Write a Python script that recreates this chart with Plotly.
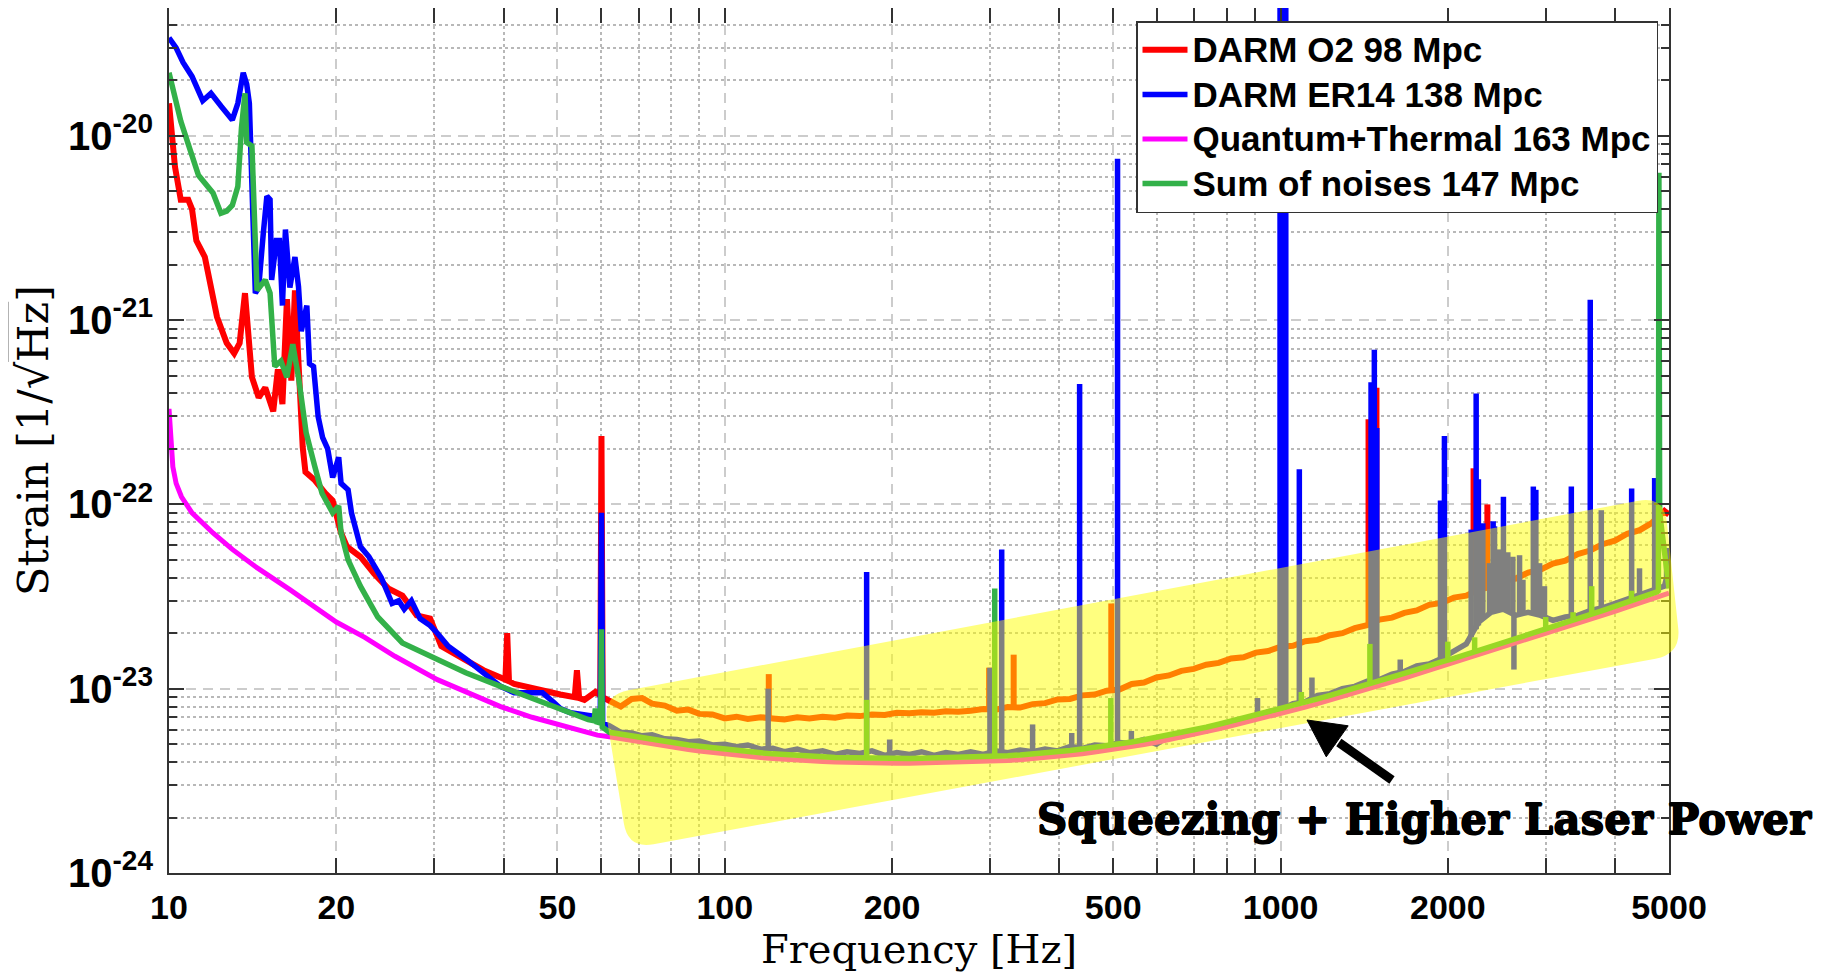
import math
import plotly.graph_objects as go

# ======================= DATA =======================
# common frequency grid in the "bucket" (Hz)
f_bucket = [62, 65, 68, 71, 74, 78, 82, 86, 90, 95,
            100, 105, 110, 116, 122, 128, 135, 142, 150, 158,
            166, 175, 184, 194, 204, 215, 226, 238, 250, 263,
            277, 292, 307, 323, 340, 358, 377, 397, 418, 440,
            463, 487, 513, 540, 568, 598, 630, 663, 698, 735,
            774, 815, 858, 903, 950, 1000, 1053, 1108, 1166, 1228,
            1292, 1360, 1432, 1507, 1587, 1670, 1758, 1851, 1948, 2051,
            2159, 2272, 2392, 2518, 2650, 2790, 2937, 3091, 3254, 3425,
            3606, 3796, 3996, 4206, 4428, 4661, 4906, 5000]

# --- DARM O2 (red) ---
red_f_low = [10.0, 10.1, 10.25, 10.5, 10.83, 11.0, 11.2, 11.6, 12.2, 12.7,
             13.1, 13.4, 13.7, 14.1, 14.5, 14.9, 15.4, 15.7, 16.0, 16.3,
             16.6, 16.85, 17.4, 17.6, 18.3, 19.1, 19.7, 20.4, 20.9, 22.1,
             23.4, 24.8, 26.3, 27.9, 29.5, 30.9, 33.2, 36.8, 39.5, 40.3,
             40.6, 40.9, 41.8, 45.7, 50.6, 53.7, 54.2, 54.7, 55.9, 58.5,
             59.7, 60.0, 60.3]
red_v_low = [1.5e-20, 1.0e-20, 6.8e-21, 4.5e-21, 4.5e-21, 4.0e-21, 2.7e-21, 2.2e-21, 1.04e-21, 7.5e-22,
             6.6e-22, 7.5e-22, 1.4e-21, 4.9e-22, 3.8e-22, 4.3e-22, 3.2e-22, 5.4e-22, 3.5e-22, 1.3e-21,
             4.7e-22, 1.45e-21, 2.05e-22, 1.5e-22, 1.35e-22, 1.15e-22, 1.05e-22, 7e-23, 5.9e-23, 5.2e-23,
             4.2e-23, 3.5e-23, 3.2e-23, 2.5e-23, 2.4e-23, 1.7e-23, 1.5e-23, 1.26e-23, 1.15e-23, 1.12e-23,
             2.0e-23, 1.1e-23, 1.06e-23, 9.9e-24, 9.3e-24, 9.0e-24, 1.26e-23, 8.9e-24, 8.7e-24, 9.6e-24,
             9.2e-24, 2.35e-22, 9.0e-24]
red_v_bucket = [8.6e-24, 8.0e-24, 8.8e-24, 8.9e-24, 8.3e-24, 8.1e-24, 7.6e-24, 7.7e-24, 7.3e-24, 7.25e-24,
                6.9e-24, 7.05e-24, 6.85e-24, 7.0e-24, 6.9e-24, 6.8e-24, 7.0e-24, 6.9e-24, 7.05e-24, 6.95e-24,
                7.15e-24, 7.1e-24, 7.25e-24, 7.2e-24, 7.4e-24, 7.35e-24, 7.45e-24, 7.4e-24, 7.55e-24, 7.5e-24,
                7.6e-24, 7.75e-24, 7.7e-24, 7.95e-24, 7.9e-24, 8.25e-24, 8.35e-24, 8.75e-24, 8.8e-24, 9.2e-24,
                9.3e-24, 9.75e-24, 9.9e-24, 1.06e-23, 1.08e-23, 1.15e-23, 1.18e-23, 1.25e-23, 1.28e-23, 1.35e-23,
                1.38e-23, 1.46e-23, 1.48e-23, 1.57e-23, 1.6e-23, 1.69e-23, 1.71e-23, 1.81e-23, 1.84e-23, 1.95e-23,
                2.0e-23, 2.13e-23, 2.21e-23, 2.37e-23, 2.43e-23, 2.58e-23, 2.66e-23, 2.85e-23, 2.92e-23, 3.12e-23,
                3.2e-23, 3.45e-23, 3.57e-23, 3.85e-23, 3.96e-23, 4.27e-23, 4.42e-23, 4.77e-23, 4.95e-23, 5.38e-23,
                5.62e-23, 6.08e-23, 6.36e-23, 6.93e-23, 7.25e-23, 7.95e-23, 9.2e-23, 8.8e-23]
red_spike_f = [120, 299, 331, 496, 1440, 1488, 2225, 2356]
red_spike_base = [6.9e-24, 7.7e-24, 7.9e-24, 9.8e-24, 2.25e-23, 2.35e-23, 3.35e-23, 3.6e-23]
red_spike_peak = [1.2e-23, 1.3e-23, 1.53e-23, 2.9e-23, 2.9e-22, 4.3e-22, 1.57e-22, 1.0e-22]

# --- DARM ER14 (blue) ---
blue_f_low = [10.0, 10.3, 10.6, 11.0, 11.5, 11.9, 12.4, 13.0, 13.3, 13.6,
              13.8, 13.95, 14.3, 14.5, 14.78, 15.0, 15.2, 15.3, 15.6, 15.8,
              16.0, 16.2, 16.5, 16.85, 17.1, 17.3, 17.7, 17.9, 18.2, 18.55,
              18.9, 19.3, 19.7, 20.2, 20.4, 21.0, 21.3, 22.1, 22.9, 24.1,
              25.2, 25.9, 26.5, 27.3, 28.3, 29.5, 30.4, 31.8, 34.2, 36.8,
              39.5, 41.8, 44.3, 47.0, 49.1, 50.6, 52.8, 56.4, 59.7, 60.0,
              60.3]
blue_v_low = [3.4e-20, 3.0e-20, 2.5e-20, 2.1e-20, 1.55e-20, 1.7e-20, 1.45e-20, 1.22e-20, 1.5e-20, 2.2e-20,
              1.9e-20, 1.5e-20, 1.4e-21, 1.5e-21, 2.96e-21, 4.7e-21, 4.5e-21, 1.65e-21, 2.7e-21, 2.7e-21,
              1.2e-21, 3.1e-21, 1.5e-21, 2.2e-21, 1.52e-21, 8.7e-22, 1.2e-21, 5.8e-22, 5.6e-22, 3.0e-22,
              2.3e-22, 2.0e-22, 1.4e-22, 1.8e-22, 1.3e-22, 1.2e-22, 9e-23, 5.9e-23, 5.2e-23, 4e-23,
              2.9e-23, 3.0e-23, 2.7e-23, 3.0e-23, 2.4e-23, 2.2e-23, 2.0e-23, 1.7e-23, 1.45e-23, 1.22e-23,
              1.03e-23, 9.5e-24, 9.5e-24, 9.5e-24, 8.5e-24, 7.8e-24, 7.4e-24, 7.2e-24, 7.0e-24, 9.0e-23,
              6.5e-24]
blue_v_bucket = [6.3e-24, 5.8e-24, 5.75e-24, 5.55e-24, 5.62e-24, 5.35e-24, 5.3e-24, 5.15e-24, 5.2e-24, 4.95e-24,
                 5.0e-24, 4.85e-24, 4.95e-24, 4.7e-24, 4.75e-24, 4.55e-24, 4.7e-24, 4.5e-24, 4.6e-24, 4.4e-24,
                 4.55e-24, 4.45e-24, 4.6e-24, 4.35e-24, 4.5e-24, 4.4e-24, 4.55e-24, 4.35e-24, 4.5e-24, 4.4e-24,
                 4.55e-24, 4.4e-24, 4.6e-24, 4.5e-24, 4.65e-24, 4.55e-24, 4.7e-24, 4.6e-24, 4.85e-24, 4.75e-24,
                 4.95e-24, 4.9e-24, 5.1e-24, 5.05e-24, 5.3e-24, 5.0e-24, 5.55e-24, 5.5e-24, 5.85e-24, 5.9e-24,
                 6.3e-24, 6.4e-24, 6.85e-24, 6.9e-24, 7.5e-24, 7.7e-24, 8.3e-24, 8.5e-24, 9.2e-24, 9.4e-24,
                 1.0e-23, 1.03e-23, 1.1e-23, 1.12e-23, 1.2e-23, 1.24e-23, 1.33e-23, 1.36e-23, 1.46e-23, 1.6e-23,
                 1.75e-23, 2.3e-23, 2.6e-23, 2.7e-23, 2.5e-23, 2.6e-23, 2.5e-23, 2.35e-23, 2.45e-23, 2.5e-23,
                 2.65e-23, 2.75e-23, 2.9e-23, 3.05e-23, 3.2e-23, 3.4e-23, 3.6e-23, 4.5e-23]
blue_spike_f = [119.7, 180, 198, 300, 315, 358, 421, 435, 509, 539,
                909, 998, 1004, 1010, 1016, 1022, 1081, 1139, 1455, 1475,
                1490, 1642, 1940, 1972, 2203, 2249, 2270, 2312, 2377, 2413,
                2427, 2477, 2518, 2564, 2618, 2630, 2692, 2730, 2850, 2880,
                2925, 2985, 3336, 3608, 3777, 4283, 4425, 4711, 4950]
blue_spike_base = [4.75e-24, 4.45e-24, 4.35e-24, 4.45e-24, 4.55e-24, 4.55e-24, 4.8e-24, 4.75e-24, 5.05e-24, 5.05e-24,
                   6.9e-24, 7.6e-24, 7.7e-24, 7.8e-24, 7.9e-24, 8.0e-24, 8.4e-24, 8.9e-24, 1.1e-23, 1.11e-23,
                   1.12e-23, 1.22e-23, 1.45e-23, 1.46e-23, 1.9e-23, 2.1e-23, 2.2e-23, 2.4e-23, 2.55e-23, 2.6e-23,
                   2.6e-23, 2.65e-23, 2.7e-23, 2.65e-23, 2.55e-23, 2.5e-23, 2.55e-23, 2.6e-23, 2.55e-23, 2.55e-23,
                   2.5e-23, 2.45e-23, 2.45e-23, 2.65e-23, 2.75e-23, 3.1e-23, 3.2e-23, 3.45e-23, 3.8e-23]
blue_spike_peak = [1.0e-23, 4.3e-23, 5.3e-24, 1.3e-23, 5.7e-23, 6.4e-24, 5.75e-24, 4.5e-22, 7.5e-21, 5.9e-24,
                   8.9e-24, 8e-20, 8e-20, 8e-20, 8e-20, 8e-20, 1.55e-22, 1.15e-23, 4.6e-22, 6.9e-22,
                   2.6e-22, 1.44e-23, 1.05e-22, 2.35e-22, 7.3e-23, 4.0e-22, 1.37e-22, 7.9e-23, 4.8e-23, 8.1e-23,
                   7.6e-23, 5.7e-23, 1.1e-22, 5.5e-23, 5.2e-23, 1.27e-23, 5.3e-23, 3.9e-23, 1.25e-22, 1.2e-22,
                   4.8e-23, 3.6e-23, 1.25e-22, 1.29e-21, 9.3e-23, 1.22e-22, 4.5e-23, 1.39e-22, 5.8e-23]

# --- Quantum + Thermal (magenta) ---
mag_f_low = [10, 10.08, 10.16, 10.3, 10.53, 11, 12, 13, 14.3, 16.5,
             18, 20, 22.5, 25.5, 30.4, 35, 39.5, 45, 50, 55, 59]
mag_v_low = [3.3e-22, 2.0e-22, 1.6e-22, 1.3e-22, 1.1e-22, 9.0e-23, 7.0e-23, 5.7e-23, 4.6e-23, 3.45e-23,
             2.85e-23, 2.3e-23, 1.9e-23, 1.5e-23, 1.12e-23, 9.3e-24, 8.0e-24, 7.0e-24, 6.4e-24, 5.9e-24, 5.6e-24]
mag_v_bucket = [5.48e-24, 5.35e-24, 5.2e-24, 5.08e-24, 4.98e-24, 4.87e-24, 4.76e-24, 4.67e-24, 4.59e-24, 4.5e-24,
                4.42e-24, 4.35e-24, 4.29e-24, 4.23e-24, 4.18e-24, 4.13e-24, 4.09e-24, 4.06e-24, 4.03e-24, 4.0e-24,
                3.98e-24, 3.96e-24, 3.95e-24, 3.94e-24, 3.94e-24, 3.94e-24, 3.95e-24, 3.96e-24, 3.97e-24, 3.99e-24,
                4.01e-24, 4.03e-24, 4.05e-24, 4.08e-24, 4.12e-24, 4.17e-24, 4.22e-24, 4.29e-24, 4.36e-24, 4.44e-24,
                4.53e-24, 4.62e-24, 4.73e-24, 4.85e-24, 4.98e-24, 5.12e-24, 5.28e-24, 5.45e-24, 5.63e-24, 5.83e-24,
                6.05e-24, 6.28e-24, 6.52e-24, 6.78e-24, 7.05e-24, 7.33e-24, 7.63e-24, 7.95e-24, 8.3e-24, 8.67e-24,
                9.06e-24, 9.48e-24, 9.93e-24, 1.04e-23, 1.09e-23, 1.14e-23, 1.2e-23, 1.26e-23, 1.32e-23, 1.38e-23,
                1.45e-23, 1.52e-23, 1.6e-23, 1.68e-23, 1.76e-23, 1.85e-23, 1.95e-23, 2.05e-23, 2.15e-23, 2.26e-23,
                2.38e-23, 2.5e-23, 2.63e-23, 2.77e-23, 2.92e-23, 3.07e-23, 3.23e-23, 3.3e-23]

# --- Sum of noises (green) ---
green_f_low = [10.0, 10.2, 10.5, 10.9, 11.3, 12.0, 12.4, 12.7, 13.0, 13.3,
               13.5, 13.7, 13.8, 14.1, 14.4, 14.9, 15.2, 15.5, 15.9, 16.3,
               16.7, 17.1, 17.65, 18.3, 18.85, 19.7, 20.2, 20.4, 21.0, 22.1,
               23.75, 26.3, 29.5, 34.2, 39.5, 45.7, 52.8, 56.8, 58.2, 58.5,
               58.8, 59.8, 60.0, 60.2]
green_v_low = [2.2e-20, 1.7e-20, 1.2e-20, 8.5e-21, 6.1e-21, 4.9e-21, 3.8e-21, 3.9e-21, 4.2e-21, 5.3e-21,
               1.1e-20, 1.7e-20, 9.2e-21, 8.8e-21, 1.45e-21, 1.65e-21, 1.4e-21, 5.6e-22, 6.0e-22, 4.9e-22,
               7.4e-22, 4.9e-22, 2.45e-22, 1.6e-22, 1.15e-22, 9e-23, 9.8e-23, 7e-23, 5e-23, 3.6e-23,
               2.45e-23, 1.77e-23, 1.5e-23, 1.22e-23, 1.03e-23, 8.7e-24, 7.4e-24, 6.8e-24, 6.7e-24, 7.8e-24,
               6.6e-24, 6.5e-24, 2.1e-23, 6.2e-24]
green_v_bucket = [5.8e-24, 5.66e-24, 5.5e-24, 5.38e-24, 5.28e-24, 5.16e-24, 5.05e-24, 4.95e-24, 4.87e-24, 4.77e-24,
                  4.69e-24, 4.61e-24, 4.55e-24, 4.49e-24, 4.43e-24, 4.38e-24, 4.34e-24, 4.31e-24, 4.27e-24, 4.24e-24,
                  4.22e-24, 4.2e-24, 4.19e-24, 4.18e-24, 4.18e-24, 4.18e-24, 4.19e-24, 4.2e-24, 4.21e-24, 4.23e-24,
                  4.25e-24, 4.27e-24, 4.3e-24, 4.33e-24, 4.37e-24, 4.42e-24, 4.47e-24, 4.55e-24, 4.62e-24, 4.71e-24,
                  4.8e-24, 4.9e-24, 5.01e-24, 5.14e-24, 5.28e-24, 5.43e-24, 5.6e-24, 5.78e-24, 5.97e-24, 6.18e-24,
                  6.41e-24, 6.66e-24, 6.91e-24, 7.19e-24, 7.47e-24, 7.77e-24, 8.09e-24, 8.43e-24, 8.8e-24, 9.19e-24,
                  9.6e-24, 1.0e-23, 1.05e-23, 1.1e-23, 1.16e-23, 1.21e-23, 1.27e-23, 1.34e-23, 1.4e-23, 1.46e-23,
                  1.54e-23, 1.61e-23, 1.7e-23, 1.78e-23, 1.87e-23, 1.96e-23, 2.07e-23, 2.17e-23, 2.28e-23, 2.4e-23,
                  2.52e-23, 2.65e-23, 2.79e-23, 2.94e-23, 3.1e-23, 3.25e-23]
green_f_tail = [4760, 4785, 4795, 4810, 5000]
green_v_tail = [3.35e-23, 3.4e-23, 6.3e-21, 9.0e-23, 3.5e-23]
green_spike_f = [180, 306, 495, 1090, 1448, 2000, 2235, 3000, 3360, 3630, 4280]
green_spike_base = [4.19e-24, 4.3e-24, 4.9e-24, 8.4e-24, 1.05e-23, 1.43e-23, 1.59e-23, 2.1e-23, 2.33e-23, 2.53e-23, 2.99e-23]
green_spike_peak = [8.7e-24, 3.5e-23, 8.9e-24, 9.6e-24, 1.75e-23, 1.8e-23, 1.9e-23, 2.45e-23, 2.6e-23, 3.6e-23, 3.4e-23]

# labels
series_names = ["DARM O2 98 Mpc", "DARM ER14 138 Mpc", "Quantum+Thermal 163 Mpc", "Sum of noises 147 Mpc"]
series_colors = ["#ff0000", "#0000ff", "#ff00ff", "#33b149"]
x_major = [10, 20, 50, 100, 200, 500, 1000, 2000, 5000]
x_minor = [30, 40, 60, 70, 80, 90, 300, 400, 600, 700, 800, 900, 3000, 4000]
y_major = [1e-24, 1e-23, 1e-22, 1e-21, 1e-20]
y_major_text = ["10<sup>-24</sup>", "10<sup>-23</sup>", "10<sup>-22</sup>", "10<sup>-21</sup>", "10<sup>-20</sup>"]
annotation_text = "Squeezing + Higher Laser Power"

# ======================= LAYOUT GEOMETRY =======================
# page pixel positions (the plot div sits 8px in from the page corner)
OFF = 8
FIG_W, FIG_H = 1827 - OFF, 979 - OFF
L_PX, R_PX, T_PX, B_PX = 169, 1669, 8, 873          # plot area on the page
W_PX, H_PX = R_PX - L_PX, B_PX - T_PX
DECADE_PX = 184.3
Y_TOP = -24 + H_PX / DECADE_PX


def to_paper(x, y):
    return (x - L_PX) / W_PX, (B_PX - y) / H_PX


fig = go.Figure()


def add_series(name, color, width, f, v, sf=None, sb=None, sp=None):
    label = f"<span style='font-size:35px'>{name}</span>"
    fig.add_trace(go.Scatter(x=f, y=v, mode="lines", name=label, legendgroup=name,
                             line=dict(color=color, width=width), hoverinfo="skip"))
    if sf:
        xs, ys = [], []
        for a, b, c in zip(sf, sb, sp):
            xs += [a, a, None]
            ys += [b, c, None]
        fig.add_trace(go.Scatter(x=xs, y=ys, mode="lines", legendgroup=name, showlegend=False,
                                 line=dict(color=color, width=width), hoverinfo="skip"))


add_series(series_names[0], series_colors[0], 6, red_f_low + f_bucket, red_v_low + red_v_bucket,
           red_spike_f, red_spike_base, red_spike_peak)
add_series(series_names[1], series_colors[1], 5.5, blue_f_low + f_bucket, blue_v_low + blue_v_bucket,
           blue_spike_f, blue_spike_base, blue_spike_peak)
add_series(series_names[2], series_colors[2], 5, mag_f_low + f_bucket, mag_v_low + mag_v_bucket)
add_series(series_names[3], series_colors[3], 5.5, green_f_low + f_bucket[:-2] + green_f_tail,
           green_v_low + green_v_bucket + green_v_tail,
           green_spike_f, green_spike_base, green_spike_peak)

axis_col = "#333333"
tick_font = dict(family="Liberation Sans", size=34, color="black", weight="bold")

fig.update_xaxes(
    type="log", range=[1, math.log10(5000)], automargin=False,
    tickmode="array", tickvals=x_major, ticktext=[str(v) for v in x_major],
    tickfont=tick_font, ticks="inside", ticklen=15, tickwidth=1.5, tickcolor=axis_col,
    ticklabelstandoff=3,
    showline=True, linecolor=axis_col, linewidth=2, mirror="allticks", zeroline=False,
    showgrid=True, gridcolor="#cccccc", gridwidth=1.5, griddash="10px,7px",
    minor=dict(tickmode="array", tickvals=x_minor, ticks="inside", ticklen=15, tickwidth=1.5,
               tickcolor=axis_col, showgrid=True, gridcolor="#b8b8b8", gridwidth=1.5, griddash="dot"),
    title=dict(text="Frequency [Hz]", font=dict(family="DejaVu Serif", size=40, color="black"), standoff=10),
)

y_minor = [m * 10.0 ** e for e in range(-24, -19) for m in range(2, 10) if m * 10.0 ** e < 5e-20]
fig.update_yaxes(
    type="log", range=[-24, Y_TOP], automargin=False,
    tickmode="array", tickvals=y_major, ticktext=y_major_text,
    tickfont=dict(family="Liberation Sans", size=40, color="black", weight="bold"),
    ticks="inside", ticklen=15, tickwidth=1.5, tickcolor=axis_col, ticklabelstandoff=6,
    showline=True, linecolor=axis_col, linewidth=2, mirror="allticks", zeroline=False,
    showgrid=True, gridcolor="#cccccc", gridwidth=1.5, griddash="10px,7px",
    minor=dict(tickmode="array", tickvals=y_minor, ticks="inside", ticklen=8, tickwidth=1.5,
               tickcolor=axis_col, showgrid=True, gridcolor="#b8b8b8", gridwidth=1.5, griddash="dot"),
    title=dict(text="Strain [1/\u221a<span style='text-decoration:overline'>Hz</span>]",
               font=dict(family="DejaVu Serif", size=43, color="black"), standoff=14),
)

# ---- yellow highlight (rounded, rotated box) in page pixels -> paper coords ----
corners = [(603, 695), (1664, 496), (1681, 654), (628, 849)]
radius = 26


def rounded_path(pts, r):
    n = len(pts)
    segs = []
    for i in range(n):
        cx, cy = pts[i]
        px_, py_ = pts[i - 1]
        nx_, ny_ = pts[(i + 1) % n]
        d1 = math.hypot(px_ - cx, py_ - cy)
        d2 = math.hypot(nx_ - cx, ny_ - cy)
        a = (cx + r * (px_ - cx) / d1, cy + r * (py_ - cy) / d1)
        b = (cx + r * (nx_ - cx) / d2, cy + r * (ny_ - cy) / d2)
        segs.append((a, (cx, cy), b))
    path = ""
    for i, (a, c, b) in enumerate(segs):
        ax_, ay_ = to_paper(*a)
        cx_, cy_ = to_paper(*c)
        bx_, by_ = to_paper(*b)
        path += ("M" if i == 0 else "L") + f"{ax_:.5f},{ay_:.5f}"
        path += f"Q{cx_:.5f},{cy_:.5f} {bx_:.5f},{by_:.5f}"
    return path + "Z"


shapes = [dict(type="path", xref="paper", yref="paper", path=rounded_path(corners, radius),
               fillcolor="#ffff00", opacity=0.5, line=dict(width=0), layer="above")]

# ---- arrow (shaft + head) ----
tip = (1307, 720)
tail = (1392, 780)
ux, uy = tip[0] - tail[0], tip[1] - tail[1]
ul = math.hypot(ux, uy)
ux, uy = ux / ul, uy / ul
head_len, head_half = 37, 19
base = (tip[0] - head_len * ux, tip[1] - head_len * uy)
b1 = (base[0] - head_half * uy, base[1] + head_half * ux)
b2 = (base[0] + head_half * uy, base[1] - head_half * ux)
t0 = to_paper(*tail)
t1 = to_paper(base[0] - 2 * ux, base[1] - 2 * uy)
shapes.append(dict(type="line", xref="paper", yref="paper", x0=t0[0], y0=t0[1], x1=t1[0], y1=t1[1],
                   line=dict(color="black", width=9), layer="above"))
hp = [to_paper(*tip), to_paper(*b1), to_paper(*b2)]
shapes.append(dict(type="path", xref="paper", yref="paper",
                   path=f"M{hp[0][0]:.5f},{hp[0][1]:.5f}L{hp[1][0]:.5f},{hp[1][1]:.5f}L{hp[2][0]:.5f},{hp[2][1]:.5f}Z",
                   fillcolor="black", line=dict(color="black", width=1), layer="above"))

ann_x, ann_y = to_paper(1424, 819)

fig.update_layout(
    width=FIG_W, height=FIG_H,
    margin=dict(l=L_PX - OFF, r=FIG_W - (R_PX - OFF), t=T_PX - OFF, b=FIG_H - (B_PX - OFF)),
    paper_bgcolor="white", plot_bgcolor="white",
    shapes=shapes,
    annotations=[dict(x=ann_x, y=ann_y, xref="paper", yref="paper", text=annotation_text,
                      showarrow=False, xanchor="center", yanchor="middle",
                      font=dict(family="DejaVu Serif", size=42, color="black", weight="bold",
                                shadow="0.7px 0px 0px black, -0.7px 0px 0px black, 0px 0.7px 0px black, 0px -0.7px 0px black"))],
    legend=dict(x=to_paper(1136, 0)[0], y=to_paper(0, 21)[1], xanchor="left", yanchor="top",
                bgcolor="white", bordercolor=axis_col, borderwidth=1.5, itemwidth=45,
                font=dict(family="Liberation Sans", size=32, color="black", weight="bold"),
                tracegroupgap=0),
    showlegend=True,
)

fig.write_html("out.html")
